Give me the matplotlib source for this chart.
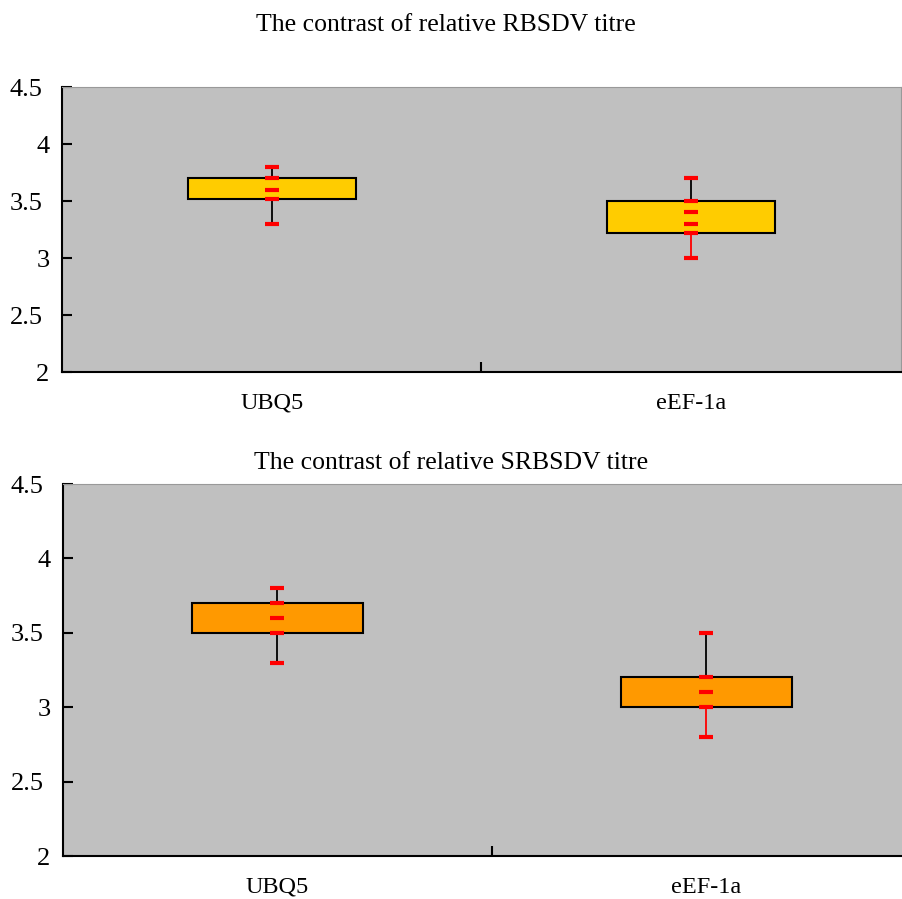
import matplotlib
matplotlib.use('Agg')
from matplotlib import pyplot as plt
from matplotlib.transforms import ScaledTranslation

plt.rcParams['font.family'] = ['Liberation Serif', 'DejaVu Serif']

categories = ['UBQ5', 'eEF-1a']

# RBSDV (top chart)
rb_low = [3.3, 3.0]
rb_q1 = [3.52, 3.22]
rb_q3 = [3.7, 3.5]
rb_high = [3.8, 3.7]
rb_marks = [[3.8, 3.7, 3.6, 3.52, 3.3],
            [3.7, 3.5, 3.4, 3.3, 3.22, 3.0]]

# SRBSDV (bottom chart)
srb_low = [3.3, 2.8]
srb_q1 = [3.5, 3.0]
srb_q3 = [3.7, 3.2]
srb_high = [3.8, 3.5]
srb_marks = [[3.8, 3.7, 3.6, 3.5, 3.3],
             [3.5, 3.2, 3.1, 3.0, 2.8]]

low_whisker_colors = ['black', 'red']
ytick_vals = [2, 2.5, 3, 3.5, 4, 4.5]
ytick_text = ['2', '2.5', '3', '3.5', '4', '4.5']


def draw_panel(ax, low, q1, q3, high, marks, box_color):
    x = list(range(len(categories)))
    ax.set_facecolor('#C0C0C0')
    for i in x:
        # whiskers: upper black, lower per category
        ax.plot([i, i], [q3[i], high[i]], color='black', lw=1.3, zorder=2)
        ax.plot([i, i], [low[i], q1[i]], color=low_whisker_colors[i], lw=1.3, zorder=2)
    heights = [q3[i] - q1[i] for i in x]
    ax.bar(x, heights, bottom=q1, width=0.4, color=box_color,
           edgecolor='black', linewidth=1.5, zorder=3)
    for i in x:
        ax.plot([i] * len(marks[i]), marks[i], linestyle='none', marker='_',
                markersize=10, mew=3, color='red', zorder=4)
    ax.set_xlim(-0.5, 1.5)
    ax.set_ylim(2, 4.5)
    ax.set_yticks(ytick_vals)
    ax.set_yticklabels(ytick_text)
    ax.set_xticks([0.5])
    ax.set_xticklabels([''])
    ax.set_xticks(x, minor=True)
    ax.set_xticklabels(categories, minor=True)
    ax.tick_params(axis='x', which='minor', length=0, pad=15, labelsize=17.5)
    ax.tick_params(axis='x', which='major', direction='in', length=7, width=1.5)
    ax.tick_params(axis='y', direction='in', length=7, width=1.5, pad=14, labelsize=19)
    # whole numbers sit a little further right than the decimals
    shift = ScaledTranslation(7 / 100, 0, fig.dpi_scale_trans)
    for lab in ax.get_yticklabels():
        if '.' not in lab.get_text():
            lab.set_transform(lab.get_transform() + shift)
    ax.spines['left'].set_linewidth(1.5)
    ax.spines['bottom'].set_linewidth(1.5)
    ax.spines['top'].set_color('#999999')
    ax.spines['right'].set_color('#999999')


fig = plt.figure(figsize=(9.02, 8.99), dpi=100)
ax1 = fig.add_axes([0.0687, 0.5862, 0.930, 0.317])
ax2 = fig.add_axes([0.0698, 0.0478, 0.951, 0.4138])

draw_panel(ax1, rb_low, rb_q1, rb_q3, rb_high, rb_marks, '#FFCC00')
draw_panel(ax2, srb_low, srb_q1, srb_q3, srb_high, srb_marks, '#FF9900')

fig.text(0.494, 1 - 25 / 899, 'The contrast of relative RBSDV titre',
         ha='center', va='center', fontsize=18.5)
fig.text(0.500, 1 - 463 / 899, 'The contrast of relative SRBSDV titre',
         ha='center', va='center', fontsize=18.5)

plt.savefig('out.png', dpi=100)
